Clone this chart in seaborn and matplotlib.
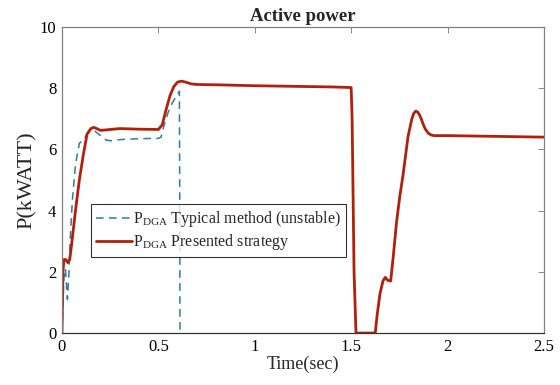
import matplotlib
matplotlib.use("Agg")
import matplotlib.pyplot as plt
import seaborn as sns
import pandas as pd

# Presented strategy: active power of DGA (kW) vs time (s)
t_present = [0, 0.005, 0.01, 0.02, 0.03, 0.04, 0.05, 0.07, 0.09, 0.11, 0.13, 0.15,
             0.165, 0.18, 0.2, 0.25, 0.3, 0.4, 0.5, 0.52, 0.54, 0.56, 0.58, 0.6,
             0.62, 0.64, 0.67, 0.7, 0.8, 1.0, 1.2, 1.4, 1.5, 1.505, 1.515, 1.525,
             1.6, 1.625, 1.635, 1.65, 1.665, 1.677, 1.69, 1.705, 1.72, 1.735,
             1.752, 1.77, 1.795, 1.815, 1.825, 1.835, 1.845, 1.855, 1.865, 1.875,
             1.885, 1.9, 1.915, 1.93, 2.0, 2.2, 2.5]
p_present = [0, 2.0, 2.4, 2.4, 2.3, 2.4, 2.9, 4.0, 5.0, 5.8, 6.5, 6.68,
             6.72, 6.68, 6.62, 6.65, 6.68, 6.66, 6.65, 6.8, 7.3, 7.75, 8.05, 8.2,
             8.23, 8.2, 8.14, 8.12, 8.11, 8.08, 8.06, 8.04, 8.02, 7.0, 2.0, 0,
             0, 0, 0.6, 1.3, 1.7, 1.82, 1.72, 1.7, 2.6, 3.6,
             4.45, 5.2, 6.42, 7.0, 7.18, 7.25, 7.22, 7.12, 6.97, 6.8,
             6.66, 6.53, 6.47, 6.45, 6.45, 6.43, 6.4]

# Typical method (unstable)
t_typical = [0, 0.01, 0.018, 0.028, 0.035, 0.042, 0.054, 0.07, 0.09, 0.11, 0.13,
             0.15, 0.17, 0.2, 0.23, 0.26, 0.3, 0.4, 0.5, 0.514, 0.53, 0.55,
             0.57, 0.59, 0.609, 0.611, 0.612]
p_typical = [0, 1.8, 2.1, 1.1, 1.8, 3.0, 4.35, 5.5, 6.2, 6.3, 6.5,
             6.6, 6.6, 6.45, 6.3, 6.28, 6.32, 6.35, 6.36, 6.4, 6.8, 7.2,
             7.5, 7.7, 7.9, 4.0, 0]

x_ticks = [0, 0.5, 1, 1.5, 2, 2.5]
x_ticklabels = ["0", "0.5", "1", "1.5", "2", "2.5"]
y_ticks = [0, 2, 4, 6, 8, 10]

sns.set_style("white")
plt.rcParams["font.family"] = ["Liberation Serif", "DejaVu Serif"]
plt.rcParams["mathtext.fontset"] = "custom"
plt.rcParams["mathtext.rm"] = "Liberation Serif"
plt.rcParams["mathtext.it"] = "Liberation Serif"

fig = plt.figure(figsize=(5.6, 3.85), dpi=100)
ax = fig.add_axes([0.1107, 0.135, 0.8606, 0.795])

df_typ = pd.DataFrame({"t": t_typical, "p": p_typical})
df_pre = pd.DataFrame({"t": t_present, "p": p_present})

sns.lineplot(data=df_typ, x="t", y="p", ax=ax, sort=False, estimator=None,
             color="#2f7aa6", linewidth=1.1, dashes=False, linestyle=(0, (5, 3.5)),
             label=r"P$_{\mathrm{DGA}}$ Typical method (unstable)")
sns.lineplot(data=df_pre, x="t", y="p", ax=ax, sort=False, estimator=None,
             color="#b2200c", linewidth=2.0,
             label=r"P$_{\mathrm{DGA}}$ Presented strategy")

ax.set_xlim(0, 2.5)
ax.set_ylim(0, 10)
ax.set_xticks(x_ticks)
ax.set_xticklabels(x_ticklabels)
ax.set_yticks(y_ticks)
ax.tick_params(direction="in", length=4, width=0.7, top=True, right=True,
               labelsize=12, colors="#888888", labelcolor="black", pad=4)
for s in ax.spines.values():
    s.set_color("#808080")
    s.set_linewidth(0.9)
ax.spines["bottom"].set_color("#333333")

ax.set_title("Active power", fontsize=13.5, fontweight="bold", pad=4)
ax.set_xlabel("Time(sec)", fontsize=13, labelpad=1)
ax.set_ylabel("P(kWATT)", fontsize=16, labelpad=2)

leg = ax.legend(loc="lower left", bbox_to_anchor=(0.06, 0.248), borderaxespad=0,
                fontsize=11.5, handlelength=2.3, handletextpad=0.05,
                fancybox=False, frameon=True, borderpad=0.3, labelspacing=0.2)
leg.get_frame().set_edgecolor("black")
leg.get_frame().set_linewidth(0.8)

fig.savefig("out.png", dpi=100)
